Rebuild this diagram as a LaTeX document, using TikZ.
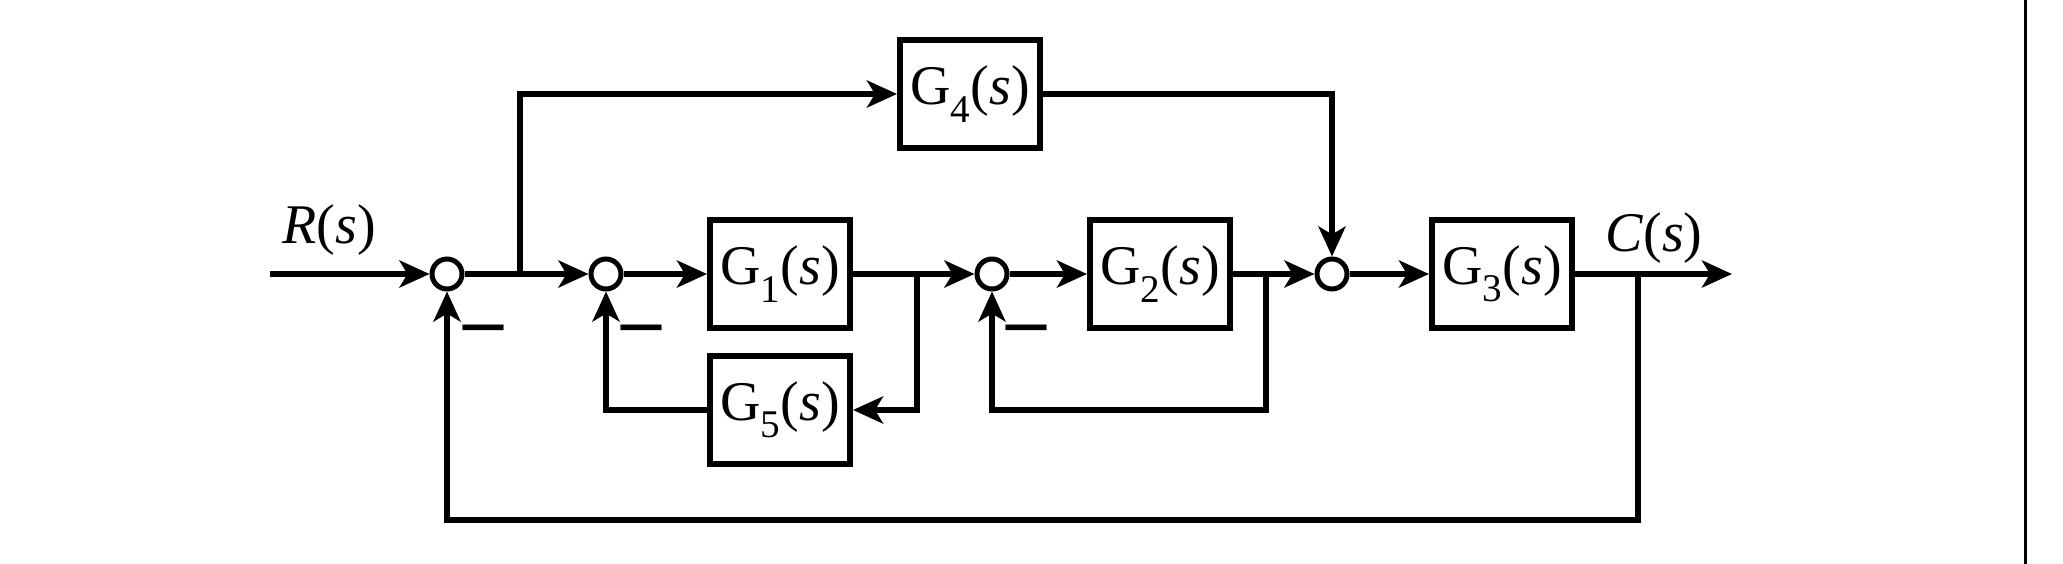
\documentclass[tikz,border=0pt]{standalone}
\usepackage{fontspec}
\setmainfont{Liberation Serif}
\usetikzlibrary{arrows.meta}
\begin{document}
\begin{tikzpicture}[x=1pt,y=-1pt,
  line width=5.5pt,
  arr/.style={-{Stealth[length=30pt,width=27pt,inset=8pt]}},
  sumnode/.style={circle,draw,line width=5pt,minimum size=30pt,inner sep=0pt,fill=white},
  block/.style={draw,rectangle,line width=6pt,minimum width=140pt,minimum height=108pt,inner sep=0pt,
    font=\fontsize{56}{60}\selectfont},
  lbl/.style={font=\fontsize{56}{60}\selectfont,inner sep=0pt},
  minus/.style={font=\fontsize{80}{80}\selectfont\bfseries,inner sep=0pt}]
\useasboundingbox (0,0) rectangle (2063,564);
% border line at right
\coordinate (bt) at (2025,0);
\coordinate (bb) at (2025,564);
\draw[line width=3pt] (bt) -- (bb);
% summing junctions
\node[sumnode] (s1) at (447,274) {};
\node[sumnode] (s2) at (606,274) {};
\node[sumnode] (s3) at (992,274) {};
\node[sumnode] (s4) at (1332,274) {};
% blocks
\node[block] (g1) at (780,274) {G\textsubscript{1}(\textit{s})};
\node[block] (g5) at (780,410) {G\textsubscript{5}(\textit{s})};
\node[block] (g2) at (1160,274) {G\textsubscript{2}(\textit{s})};
\node[block] (g3) at (1502,274) {G\textsubscript{3}(\textit{s})};
\node[block] (g4) at (970,94) {G\textsubscript{4}(\textit{s})};
% coordinates
\coordinate (in) at (270,274);
\coordinate (out) at (1732,274);
\coordinate (b1) at (520,274);
\coordinate (b2) at (917,274);
\coordinate (b3) at (1266,274);
\coordinate (b4) at (1638,274);
\coordinate (fb) at (1638,520);
% labels
\node[lbl] (R) at (329,230) {\textit{R}(\textit{s})};
\node[lbl] (C) at (1654,238) {\textit{C}(\textit{s})};
\node[minus] (m1) at (483,336) {–};
\node[minus] (m2) at (641,336) {–};
\node[minus] (m3) at (1026,336) {–};
% connectors
\draw[arr] (in) -- (s1.west);
\draw (s1.east) -- (b1);
\draw[arr] (b1) -- (s2.west);
\draw[arr] (b1) |- (g4.west);
\draw[arr] (s2.east) -- (g1.west);
\draw (g1.east) -- (b2);
\draw[arr] (b2) -- (s3.west);
\draw[arr] (b2) |- (g5.east);
\draw[arr] (g5.west) -| (s2.south);
\draw[arr] (s3.east) -- (g2.west);
\draw (g2.east) -- (b3);
\draw[arr] (b3) -- (s4.west);
\draw[arr] (b3) -- (b3 |- g5) -| (s3.south);
\draw[arr] (g4.east) -| (s4.north);
\draw[arr] (s4.east) -- (g3.west);
\draw (g3.east) -- (b4);
\draw[arr] (b4) -- (out);
\draw[arr] (b4) -- (fb) -| (s1.south);
\end{tikzpicture}
\end{document}
